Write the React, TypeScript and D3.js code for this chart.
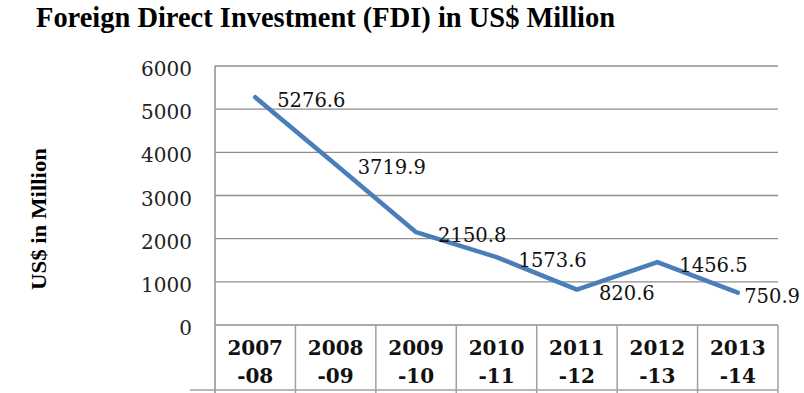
import React from 'react';
import * as d3 from 'd3';

const years = ['2007', '2008', '2009', '2010', '2011', '2012', '2013'];
const yearEnds = ['-08', '-09', '-10', '-11', '-12', '-13', '-14'];
const fdi = [5276.6, 3719.9, 2150.8, 1573.6, 820.6, 1456.5, 750.9];
const yTicks = [0, 1000, 2000, 3000, 4000, 5000, 6000];

const App: React.FC = () => {
  const width = 804;
  const height = 393;
  const left = 215;
  const right = 778;
  const top = 66;
  const bottom = 325;
  const tableBottom = 390;

  const x = d3.scaleBand<number>().domain(d3.range(fdi.length)).range([left, right]);
  const y = d3.scaleLinear().domain([0, 6000]).range([bottom, top]);
  const cx = (i: number) => (x(i) as number) + x.bandwidth() / 2;

  const line = d3
    .line<number>()
    .x((_, i) => cx(i))
    .y((d) => y(d));

  const numFont = '"DejaVu Serif", serif';
  const boldFont = '"Liberation Serif", "Times New Roman", serif';
  const labelSize = 19.5;

  // keep labels inside the chart like excel does
  const labelX = (i: number, s: string) => {
    const w = (s.length - 1) * 0.636 * labelSize + 0.318 * labelSize;
    return Math.min(cx(i) + 22, 800 - w);
  };

  return (
    <svg
      width={width}
      height={height}
      style={{ position: 'absolute', left: 0, top: 0, background: '#fff' }}
    >
      <text
        x={36}
        y={27}
        fontFamily={boldFont}
        fontWeight="bold"
        fontSize={29}
        textLength={579}
        lengthAdjust="spacingAndGlyphs"
        fill="#000"
      >
        Foreign Direct Investment (FDI) in US$ Million
      </text>

      <text
        transform={`translate(46,219) rotate(-90)`}
        textAnchor="middle"
        fontFamily={boldFont}
        fontWeight="bold"
        fontSize={21}
        textLength={142}
        lengthAdjust="spacingAndGlyphs"
        fill="#000"
      >
        US$ in Million
      </text>

      {/* gridlines */}
      {yTicks.map((t) => (
        <line
          key={t}
          x1={left}
          x2={right}
          y1={y(t)}
          y2={y(t)}
          stroke="#8e8e8e"
          strokeWidth={1.4}
        />
      ))}
      {yTicks.map((t) => (
        <text
          key={'l' + t}
          x={192}
          y={y(t) + 10}
          textAnchor="end"
          fontFamily={numFont}
          fontSize={20}
          fill="#222"
        >
          {t}
        </text>
      ))}

      {/* axis + table */}
      <line x1={left} x2={left} y1={top} y2={tableBottom + 3} stroke="#8e8e8e" strokeWidth={1.5} />
      <line x1={190} x2={right} y1={tableBottom} y2={tableBottom} stroke="#a0a0a0" strokeWidth={1.5} />
      {d3.range(1, fdi.length + 1).map((i) => {
        const xx = i === fdi.length ? right : (x(i) as number);
        return (
          <line
            key={'c' + i}
            x1={xx}
            x2={xx}
            y1={bottom}
            y2={tableBottom + 3}
            stroke="#a0a0a0"
            strokeWidth={1.5}
          />
        );
      })}
      {years.map((yr, i) => (
        <text
          key={'y' + i}
          x={cx(i)}
          textAnchor="middle"
          fontFamily={numFont}
          fontWeight="bold"
          fontSize={20}
          fill="#111"
        >
          <tspan x={cx(i)} y={355}>
            {yr}
          </tspan>
          <tspan x={cx(i)} y={383}>
            {yearEnds[i]}
          </tspan>
        </text>
      ))}

      <path
        d={line(fdi) as string}
        fill="none"
        stroke="#4a7ebb"
        strokeWidth={4.5}
        strokeLinejoin="round"
        strokeLinecap="round"
      />

      {fdi.map((v, i) => {
        const s = v.toFixed(1);
        return (
          <text
            key={'v' + i}
            x={labelX(i, s)}
            y={y(v) + 10}
            fontFamily={numFont}
            fontSize={labelSize}
            fill="#111"
          >
            {s}
          </text>
        );
      })}
    </svg>
  );
};

export default App;
